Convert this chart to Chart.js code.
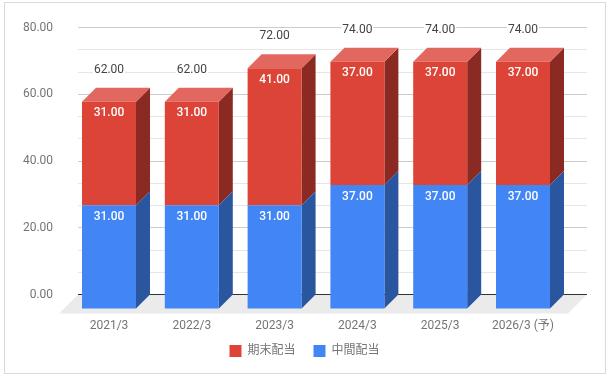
<!DOCTYPE html>
<html>
<head>
<meta charset="utf-8">
<style>
  html, body { margin: 0; padding: 0; background: #fff; }
  #wrap { position: relative; width: 609px; height: 378px; }
  #frame { position: absolute; left: 4px; top: 2px; width: 600px; height: 370px; border: 1px solid #dadada; }
  #dividendChart { position: absolute; left: 0; top: 0; }
</style>
<script src="https://cdn.jsdelivr.net/npm/chart.js@4"></script>
</head>
<body>
<div id="wrap">
  <div id="frame"></div>
  <canvas id="dividendChart" width="609" height="378"></canvas>
</div>
<script>
const categories = ["2021/3", "2022/3", "2023/3", "2024/3", "2025/3", "2026/3 (予)"];
const interimDividend = [31, 31, 31, 37, 37, 37];
const yearEndDividend = [31, 31, 41, 37, 37, 37];
const totals = [62, 62, 72, 74, 74, 74];

const FONT = 'Roboto, "Noto Sans CJK JP", sans-serif';
const DEPTH = 14;

const faceColors = [
  { side: "#2a56a0", top: "#6ea3f6" },
  { side: "#8a2a22", top: "#e2685f" },
];

function isMajor(value) {
  return Math.abs(value / 20 - Math.round(value / 20)) < 0.001;
}

const bars3d = {
  id: "bars3d",
  afterLayout(chart) {
    // tick labels get clipped to the scale box, the legend padding overlaps it
    chart.scales.x.bottom += 12;
  },
  beforeDatasetsDraw(chart) {
    const { ctx, chartArea, scales } = chart;
    const zero = scales.y.getPixelForValue(0);
    const left = chartArea.left + 10.4;
    const right = chartArea.right + 22.6;

    ctx.save();
    ctx.fillStyle = "#ebebeb";
    ctx.beginPath();
    ctx.moveTo(left, zero);
    ctx.lineTo(right, zero);
    ctx.lineTo(right - 19, zero + 19);
    ctx.lineTo(left - 19, zero + 19);
    ctx.closePath();
    ctx.fill();

    scales.y.ticks.forEach((tick) => {
      const y = Math.floor(scales.y.getPixelForValue(tick.value)) + 0.5;
      ctx.strokeStyle = Math.abs(tick.value) < 0.001 ? "#333333" : isMajor(tick.value) ? "#cccccc" : "#e6e6e6";
      ctx.lineWidth = 1;
      ctx.beginPath();
      ctx.moveTo(left, y);
      ctx.lineTo(right, y);
      ctx.stroke();
    });
    ctx.restore();
  },
  beforeDatasetDraw(chart, args) {
    const { ctx } = chart;
    const colors = faceColors[args.index];
    ctx.save();
    ctx.translate(0, DEPTH);
    args.meta.data.forEach((bar) => {
      const { x, y, base, width } = bar.getProps(["x", "y", "base", "width"], true);
      const right = x + width / 2;
      const left = x - width / 2;

      ctx.fillStyle = colors.side;
      ctx.beginPath();
      ctx.moveTo(right, y);
      ctx.lineTo(right + DEPTH, y - DEPTH);
      ctx.lineTo(right + DEPTH, base - DEPTH);
      ctx.lineTo(right, base);
      ctx.closePath();
      ctx.fill();

      if (args.index === 1) {
        ctx.fillStyle = colors.top;
        ctx.beginPath();
        ctx.moveTo(left, y);
        ctx.lineTo(left + DEPTH, y - DEPTH);
        ctx.lineTo(right + DEPTH, y - DEPTH);
        ctx.lineTo(right, y);
        ctx.closePath();
        ctx.fill();
      }
    });
  },
  afterDatasetDraw(chart) {
    chart.ctx.restore();
  },
  afterDatasetsDraw(chart) {
    const { ctx, scales } = chart;
    ctx.save();
    ctx.textAlign = "center";
    ctx.textBaseline = "middle";

    chart.data.datasets.forEach((dataset, d) => {
      chart.getDatasetMeta(d).data.forEach((bar, i) => {
        const { x, y } = bar.getProps(["x", "y"], true);
        ctx.font = "500 12px " + FONT;
        ctx.fillStyle = "#ffffff";
        ctx.fillText(dataset.data[i].toFixed(2), x, y + DEPTH + 11.5);
      });
    });

    ctx.font = "12px " + FONT;
    totals.forEach((total, i) => {
      const x = scales.x.getPixelForValue(i);
      const y = scales.y.getPixelForValue(total) - 18;
      const text = total.toFixed(2);
      const w = ctx.measureText(text).width;
      ctx.fillStyle = "#ffffff";
      ctx.fillRect(x - w / 2 - 1, y - 7, w + 2, 14);
      ctx.fillStyle = "#444444";
      ctx.fillText(text, x, y);
    });
    ctx.restore();
  },
};

function createDividendChart() {
  const data = {
    labels: categories,
    datasets: [
      { label: "中間配当", data: interimDividend, backgroundColor: "#4285f4", clip: false },
      { label: "期末配当", data: yearEndDividend, backgroundColor: "#db4437", clip: false },
    ],
  };

  const config = {
    type: "bar",
    data: data,
    plugins: [bars3d],
    options: {
      responsive: false,
      animation: false,
      layout: { padding: { top: 27.6, right: 0, bottom: 11, left: 0 } },
      datasets: { bar: { categoryPercentage: 1, barPercentage: 0.652 } },
      plugins: {
        tooltip: { enabled: false },
        legend: {
          position: "bottom",
          reverse: true,
          labels: {
            boxWidth: 12,
            boxHeight: 12,
            padding: 18,
            color: "#757575",
            font: { family: FONT, size: 12 },
          },
        },
      },
      scales: {
        x: {
          stacked: true,
          afterFit: (scale) => { scale.height = 32.4; },
          grid: { display: false },
          border: { display: false },
          ticks: {
            padding: 16.4,
            color: "#757575",
            font: { family: FONT, size: 12 },
            maxRotation: 0,
          },
        },
        y: {
          stacked: true,
          min: 0,
          max: 80,
          afterFit: (scale) => { scale.width = 67.6; },
          grid: { display: false },
          border: { display: false },
          afterBuildTicks: (scale) => {
            scale.ticks = scale.ticks.filter((tick) => tick.value <= 80);
          },
          ticks: {
            stepSize: 20 / 3,
            autoSkip: false,
            padding: 6.5,
            color: "#757575",
            font: { family: FONT, size: 12 },
            callback: (value) => (isMajor(value) ? Number(value).toFixed(2) : ""),
          },
        },
        // keeps the plot clear of the right edge without moving the legend off centre
        spacer: {
          type: "linear",
          position: "right",
          afterFit: (scale) => { scale.width = 44.6; },
          grid: { display: false },
          border: { display: false },
          ticks: { display: false },
        },
      },
    },
  };

  new Chart(document.getElementById("dividendChart"), config);
}

document.addEventListener("DOMContentLoaded", () => {
  createDividendChart();
});
</script>
</body>
</html>
